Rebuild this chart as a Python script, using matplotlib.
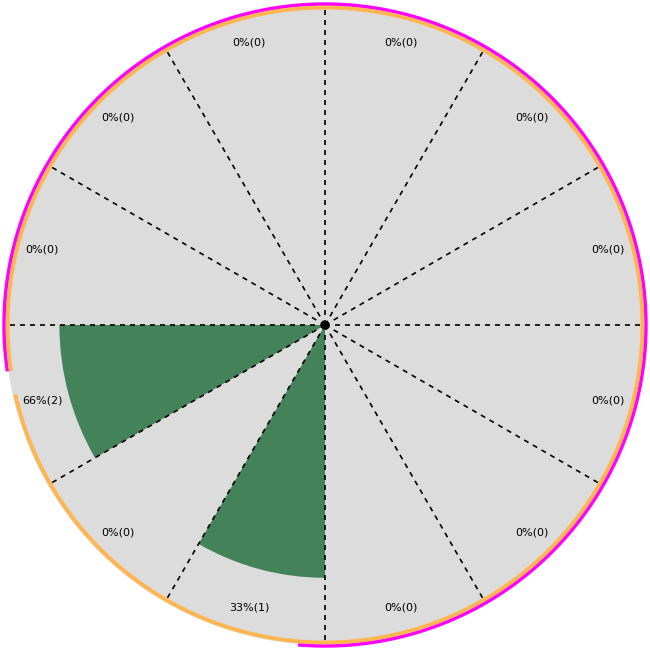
import numpy as np
import matplotlib.pyplot as plt

# 12 sectors of 30 degrees, counter-clockwise from east
counts = [0, 0, 0, 0, 0, 0, 2, 0, 1, 0, 0, 0]
percents = [0, 0, 0, 0, 0, 0, 66, 0, 33, 0, 0, 0]
# bar length (outer rim = 100)
bar_len = [0, 0, 0, 0, 0, 0, 83, 0, 79, 0, 0, 0]

n = len(counts)
width = 2 * np.pi / n
starts = np.arange(n) * width
R = 100

fig = plt.figure(figsize=(6.5, 6.5), dpi=100)
ax = fig.add_axes([5 / 650, 5 / 650, 640 / 650, 640 / 650], projection='polar')
ax.set_ylim(0, R)
ax.set_facecolor('#dcdcdc')
ax.set_xticks([])
ax.set_yticks([])
ax.grid(False)
ax.spines['polar'].set_visible(False)

ax.bar(starts, bar_len, width=width, align='edge', color='#44835a', linewidth=0, zorder=2)

for a in starts:
    ax.plot([a, a], [0, R * 0.99], color='black', linestyle=(0, (3, 3)), linewidth=1.2, zorder=3)

ax.plot([0], [0], marker='o', color='black', markersize=5, zorder=4)

for a, p, c in zip(starts, percents, counts):
    ax.text(a + width / 2, R * 0.915, '%d%%(%d)' % (p, c), ha='center', va='center', fontsize=8, zorder=5)

# outer rings
t = np.radians(np.linspace(193, 188 + 360, 400))
ax.plot(t, np.full_like(t, R * 0.992), color='#ffb650', linewidth=2.8, clip_on=False, zorder=6)
t = np.radians(np.linspace(-94.5, 188, 400))
ax.plot(t, np.full_like(t, R * 1.003), color='#ff00ff', linewidth=2.5, clip_on=False, zorder=5)

fig.savefig('out.png')
